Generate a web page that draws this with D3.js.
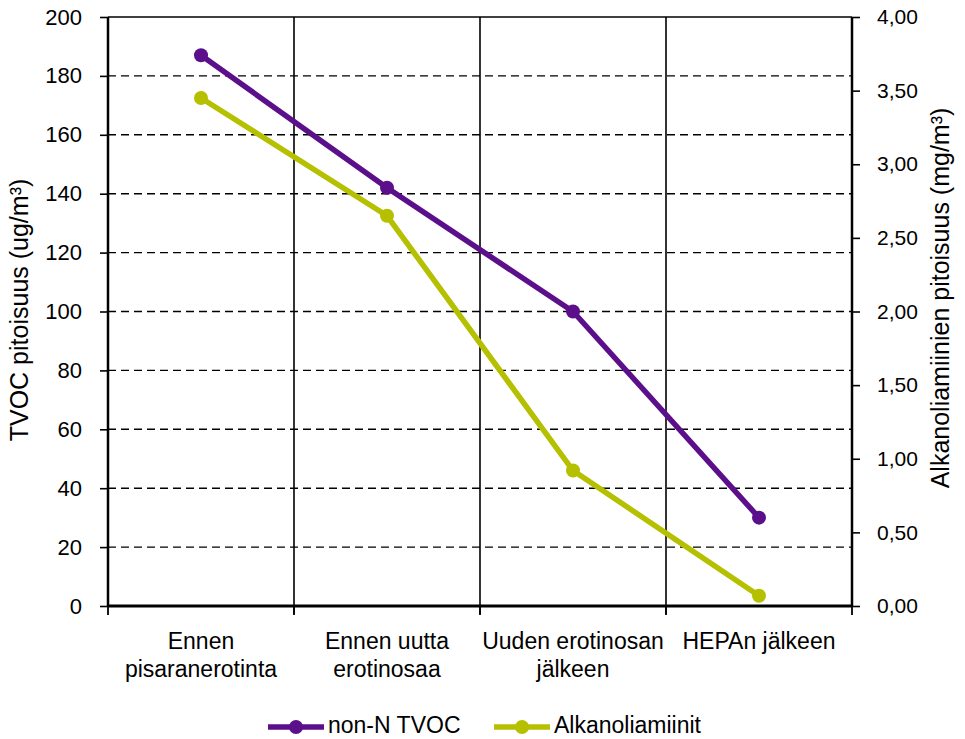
<!DOCTYPE html>
<html><head><meta charset="utf-8">
<script src="https://cdn.jsdelivr.net/npm/d3@7"></script>
<style>
body{margin:0;background:#fff;}
text{font-family:"Liberation Sans",Arial,sans-serif;fill:#000;}
</style></head>
<body><svg id="c" width="965" height="739"></svg>
<script>
const categories = [["Ennen","pisaranerotinta"],["Ennen uutta","erotinosaa"],["Uuden erotinosan","jälkeen"],["HEPAn jälkeen"]];
const tvoc = [187, 142, 100, 30];
const alkanol = [3.45, 2.65, 0.92, 0.07];
const leftTicks = [0,20,40,60,80,100,120,140,160,180,200];
const rightTicks = [0,0.5,1,1.5,2,2.5,3,3.5,4];
const seriesNames = ["non-N TVOC","Alkanoliamiinit"];
const colors = ["#5c0f8b","#b4c000"];

const svg = d3.select("#c");
const L=108, R=852, T=17, B=606;
const x = d3.scaleBand().domain(d3.range(categories.length)).range([L,R]).padding(0);
const yL = d3.scaleLinear().domain([0,200]).range([B,T]);
const yR = d3.scaleLinear().domain([0,4]).range([B,T]);

// gridlines
svg.append("g").selectAll("line").data(leftTicks.filter(d=>d>0 && d<200)).join("line")
 .attr("x1",L).attr("x2",R).attr("y1",d=>yL(d)).attr("y2",d=>yL(d))
 .attr("stroke","#000").attr("stroke-width",1.4).attr("stroke-dasharray","8,5");
svg.append("line").attr("x1",L).attr("x2",R).attr("y1",yL(200)).attr("y2",yL(200)).attr("stroke","#000").attr("stroke-width",1.6);
// vertical category separators
svg.append("g").selectAll("line").data(d3.range(1,categories.length)).join("line")
 .attr("x1",d=>x(d)).attr("x2",d=>x(d)).attr("y1",T).attr("y2",B+8)
 .attr("stroke","#000").attr("stroke-width",1.6);

// left axis
const gL = svg.append("g").attr("transform",`translate(${L},0)`)
 .call(d3.axisLeft(yL).tickValues(leftTicks).tickSize(8).tickPadding(18).tickFormat(d3.format("d")));
gL.select(".domain").attr("stroke-width",2.5).attr("d",`M0,${T}V${B}`);
gL.selectAll(".tick line").attr("stroke-width",1.6);
gL.selectAll("text").style("font-size","22px").style("font-family","Liberation Sans");

// right axis
const fmtR = d => d.toFixed(2).replace(".",",");
const gR = svg.append("g").attr("transform",`translate(${R},0)`)
 .call(d3.axisRight(yR).tickValues(rightTicks).tickSize(8).tickPadding(17).tickFormat(fmtR));
gR.select(".domain").attr("stroke-width",2.5).attr("d",`M0,${T}V${B}`);
gR.selectAll(".tick line").attr("stroke-width",1.6);
gR.selectAll("text").style("font-size","21px").style("font-family","Liberation Sans");

// bottom axis
svg.append("line").attr("x1",L).attr("x2",R).attr("y1",B).attr("y2",B).attr("stroke","#000").attr("stroke-width",2.8);
svg.append("g").selectAll("line").data(d3.range(0,categories.length+1)).join("line")
 .attr("x1",d=>L+d*x.bandwidth()).attr("x2",d=>L+d*x.bandwidth()).attr("y1",B).attr("y2",B+9)
 .attr("stroke","#000").attr("stroke-width",1.8);
const cat = svg.append("g").selectAll("text").data(categories).join("text")
 .attr("x",(d,i)=>x(i)+x.bandwidth()/2).attr("y",649).attr("text-anchor","middle").style("font-size","23px");
cat.each(function(d){
  const t=d3.select(this);
  d.forEach((s,j)=>t.append("tspan").attr("x",t.attr("x")).attr("dy",j?28:0).text(s));
});

// axis titles
svg.append("text").attr("transform",`translate(28,310) rotate(-90)`).attr("text-anchor","middle")
 .style("font-size","25px").text("TVOC pitoisuus (ug/m³)");
svg.append("text").attr("transform",`translate(949,298) rotate(-90)`).attr("text-anchor","middle")
 .style("font-size","25px").text("Alkanoliamiinien pitoisuus (mg/m³)");

// lines
const cx = i => x(i)+x.bandwidth()/2;
const series = [{v:tvoc,s:yL},{v:alkanol,s:yR}];
[1,0].forEach(k=>{
  const ser = series[k];
  const line = d3.line().x((d,i)=>cx(i)).y(d=>ser.s(d));
  svg.append("path").attr("d",line(ser.v)).attr("fill","none").attr("stroke",colors[k]).attr("stroke-width",5.5);
  svg.append("g").selectAll("circle").data(ser.v).join("circle")
   .attr("cx",(d,i)=>cx(i)).attr("cy",d=>ser.s(d)).attr("r",7).attr("fill",colors[k]);
});

// legend
const legX = [268,494];
legX.forEach((lx,i)=>{
  const g = svg.append("g");
  g.append("line").attr("x1",lx).attr("x2",lx+56).attr("y1",727).attr("y2",727).attr("stroke",colors[i]).attr("stroke-width",5.5);
  g.append("circle").attr("cx",lx+28).attr("cy",727).attr("r",7).attr("fill",colors[i]);
  g.append("text").attr("x",lx+60).attr("y",733).style("font-size","23px").text(seriesNames[i]);
});
</script></body></html>
